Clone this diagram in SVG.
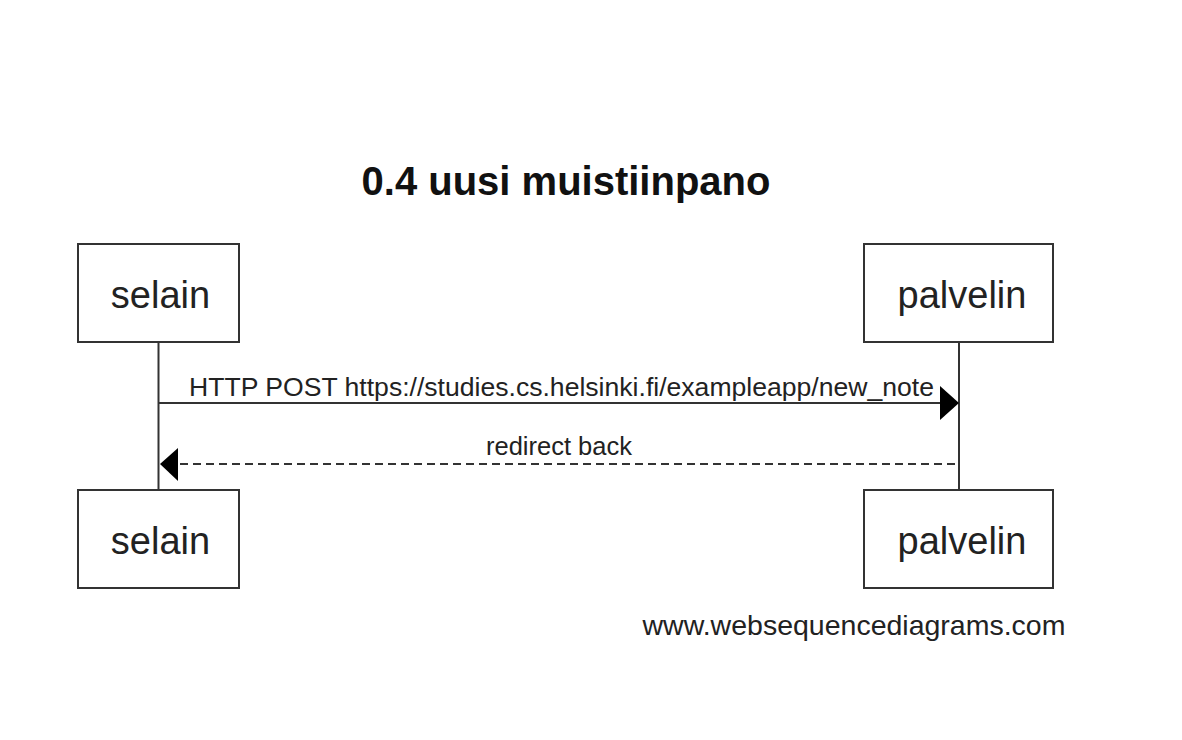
<svg xmlns="http://www.w3.org/2000/svg" width="1182" height="740" viewBox="0 0 1182 740">
<style>
.box{fill:#fff;stroke:#333;stroke-width:2}
.life{stroke:#333;stroke-width:2;fill:none}
.msg{stroke:#333;stroke-width:2;fill:none}
.dash{stroke-dasharray:8,5}
.head{fill:#000}
.lbl{font-family:"Liberation Sans",Arial,sans-serif;font-size:38px;fill:#222;text-anchor:middle}
.mtxt{font-family:"Liberation Sans",Arial,sans-serif;font-size:25.5px;fill:#222;text-anchor:middle}
</style>
<rect width="1182" height="740" fill="#fff"/>
<text x="566" y="195" font-family="Liberation Sans, Arial, sans-serif" font-size="40" font-weight="bold" fill="#111" text-anchor="middle">0.4 uusi muistiinpano</text>
<g id="connectors">
<line class="life" x1="158.5" y1="342" x2="158.5" y2="490"/>
<line class="life" x1="959" y1="342" x2="959" y2="490"/>
<line class="msg" x1="158.5" y1="403" x2="945" y2="403"/>
<polygon class="head" points="940,386 959,403 940,420"/>
<text class="mtxt" x="561.5" y="396" textLength="745" lengthAdjust="spacingAndGlyphs">HTTP POST https://studies.cs.helsinki.fi/exampleapp/new_note</text>
<line class="msg dash" x1="955" y1="464" x2="172" y2="464"/>
<polygon class="head" points="178,448 160,464 178,481"/>
<text class="mtxt" x="559" y="455">redirect back</text>
</g>
<g id="selain-top"><rect class="box" x="78" y="244" width="161" height="98"/><text class="lbl" x="160.5" y="308">selain</text></g>
<g id="palvelin-top"><rect class="box" x="864" y="244" width="189" height="98"/><text class="lbl" x="962" y="308">palvelin</text></g>
<g id="selain-bottom"><rect class="box" x="78" y="490" width="161" height="98"/><text class="lbl" x="160.5" y="554">selain</text></g>
<g id="palvelin-bottom"><rect class="box" x="864" y="490" width="189" height="98"/><text class="lbl" x="962" y="554">palvelin</text></g>
<text x="854" y="635" font-family="Liberation Sans, Arial, sans-serif" font-size="28.5" fill="#222" text-anchor="middle">www.websequencediagrams.com</text>
</svg>
